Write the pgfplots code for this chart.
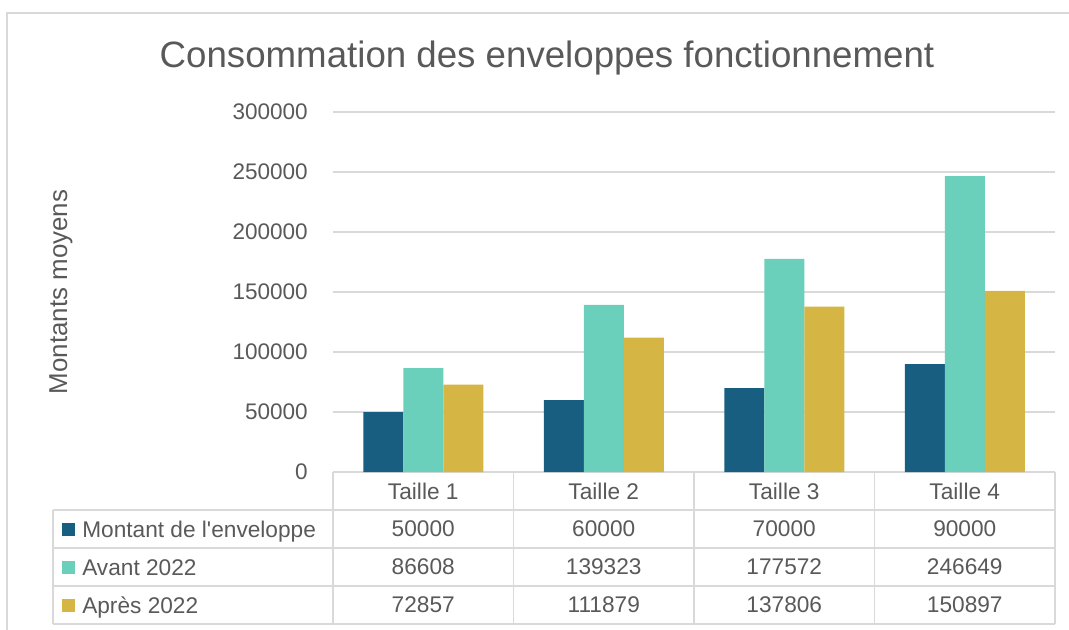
\documentclass[border=0pt]{standalone}
\usepackage{pgfplots}
\pgfplotsset{compat=1.18}
\usepackage{fontspec}
\setmainfont{Liberation Sans}
\definecolor{envblue}{HTML}{175E81}
\definecolor{avteal}{HTML}{6ACFBB}
\definecolor{apgold}{HTML}{D5B645}
\definecolor{txtgrey}{HTML}{595959}
\definecolor{gridgrey}{HTML}{D9D9D9}

\begin{document}
\begin{tikzpicture}[x=0.75pt,y=-0.75pt]
\path[use as bounding box] (0,0) rectangle (1069,630);
% chart frame
\draw[gridgrey, line width=1pt] (7,630) -- (7,13) -- (1069,13);
\node[text=txtgrey, font=\fontsize{27.5}{32}\selectfont] at (547,58) {Consommation des enveloppes fonctionnement};
\node[text=txtgrey, font=\fontsize{19.4}{23}\selectfont, rotate=90] at (61,292) {Montants moyens};

\begin{axis}[
  at={(249.75pt,-354pt)}, anchor=south west,
  scale only axis, width=541.5pt, height=270pt,
  ymin=0, ymax=300000, xmin=-0.5, xmax=3.5,
  ybar=0pt, bar width=0.2216,
  ytick={0,50000,...,300000},
  xtick=\empty,
  ymajorgrids, grid style={gridgrey, line width=1pt},
  axis line style={draw=none},
  major tick style={draw=none},
  yticklabel style={font=\fontsize{16.9}{20}\selectfont, text=txtgrey, inner sep=0pt, anchor=east, xshift=-18.75pt},
  /pgf/number format/assume math mode=true,
  /pgf/number format/fixed, /pgf/number format/1000 sep={},
  scaled y ticks=false,
  clip=false,
]
\addplot[fill=envblue, draw=none] coordinates {(0,50000) (1,60000) (2,70000) (3,90000)};
\addplot[fill=avteal, draw=none] coordinates {(0,86608) (1,139323) (2,177572) (3,246649)};
\addplot[fill=apgold, draw=none] coordinates {(0,72857) (1,111879) (2,137806) (3,150897)};
\end{axis}

% data table
\begin{scope}[gridgrey, line width=1pt]
  \foreach \xx in {333,513.5,694,874.5,1055} \draw (\xx,472) -- (\xx,624);
  \draw (53,510) -- (53,624);
  \foreach \yy in {510,548,586,624} \draw (53,\yy) -- (1055,\yy);
\end{scope}
\begin{scope}[every node/.style={text=txtgrey, font=\fontsize{17}{20}\selectfont}]
  \foreach \i in {1,...,4} \node at (423.25+180.5*\i-180.5,491) {Taille \i};
  \fill[envblue] (62,523) rectangle (75,536);
  \fill[avteal] (62,561) rectangle (75,574);
  \fill[apgold] (62,599) rectangle (75,612);
  \node[anchor=base west, inner sep=0pt] at (82,537) {Montant de l\textquotesingle enveloppe};
  \node[anchor=base west, inner sep=0pt] at (82,575) {Avant 2022};
  \node[anchor=base west, inner sep=0pt] at (82,613) {Après 2022};
  \node at (423.25,529) {50000};  \node at (603.75,529) {60000};  \node at (784.25,529) {70000};  \node at (964.75,529) {90000};
  \node at (423.25,567) {86608};  \node at (603.75,567) {139323}; \node at (784.25,567) {177572}; \node at (964.75,567) {246649};
  \node at (423.25,605) {72857};  \node at (603.75,605) {111879}; \node at (784.25,605) {137806}; \node at (964.75,605) {150897};
\end{scope}
\end{tikzpicture}
\end{document}
